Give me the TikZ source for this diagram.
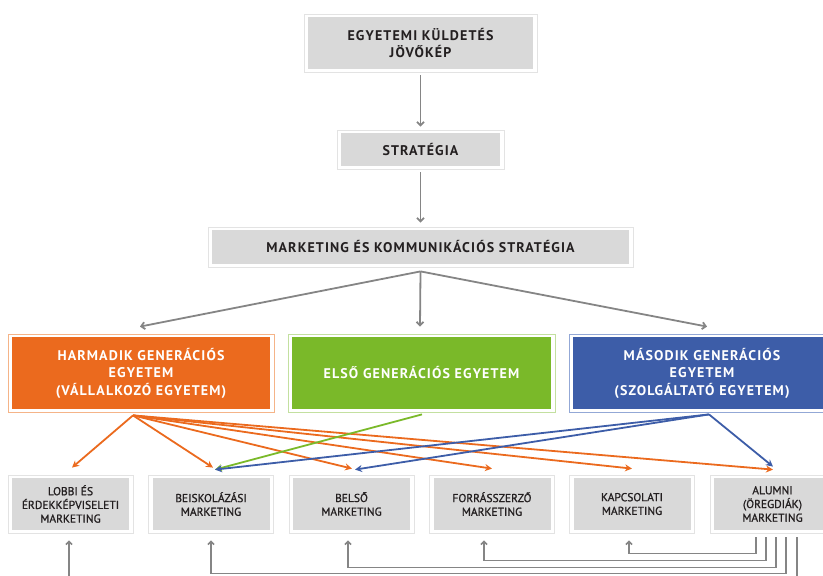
\documentclass[tikz,border=0pt]{standalone}
\usepackage{fontspec}
\setmainfont{PT Sans}
\newfontfamily\headfont[LetterSpace=8]{PT Sans}
\newfontfamily\smallfont[FakeBold=1]{PT Sans}
\usetikzlibrary{arrows.meta}
\definecolor{boxgray}{HTML}{D9D9D9}
\definecolor{framegray}{HTML}{E3E3E3}
\definecolor{lineg}{HTML}{858585}
\definecolor{ora}{HTML}{EB6A1E}
\definecolor{oraframe}{HTML}{F5B488}
\definecolor{grn}{HTML}{7AB929}
\definecolor{grnframe}{HTML}{C3E0A0}
\definecolor{blu}{HTML}{3D5DA8}
\definecolor{bluframe}{HTML}{93A8D6}
\definecolor{txt}{HTML}{231F20}
\tikzset{
  framed/.style 2 args={draw=#2, line width=0.8pt, fill=white, inner sep=0pt,
    path picture={\fill[#1] ([shift={(4pt,-3pt)}]path picture bounding box.north west)
      rectangle ([shift={(-4pt,3pt)}]path picture bounding box.south east);}},
  hbox/.style={framed={boxgray}{framegray}, font=\headfont\bfseries\fontsize{14}{17.5}\selectfont,
    text=txt, align=center},
  cbox/.style 2 args={framed={#1}{#2}, font=\headfont\bfseries\fontsize{14}{17.5}\selectfont,
    text=white, align=center, minimum width=266pt, minimum height=78pt},
  sbox/.style={framed={boxgray}{framegray}, font=\smallfont\fontsize{11.5}{13.7}\selectfont,
    text=txt, align=center, minimum width=125pt, minimum height=58pt},
  gar/.style={draw=lineg, line width=1.8pt, -{Straight Barb[length=3.5pt,width=7pt]}},
  bar/.style={draw=lineg, line width=1.6pt, -{Straight Barb[length=3pt,width=6pt]}},
  oar/.style={draw=ora, line width=1.8pt, -{Stealth[length=7pt,width=7pt]}},
  gnar/.style={draw=grn, line width=1.8pt, -{Stealth[length=7pt,width=7pt]}},
  bar2/.style={draw=blu, line width=1.8pt, -{Stealth[length=7pt,width=7pt]}},
}
\begin{document}
\begin{tikzpicture}[x=1pt,y=-1pt]
\useasboundingbox (0,0) rectangle (823,576);
\clip (0,0) rectangle (823,576);

\node[hbox, minimum width=233pt, minimum height=58pt] (mission) at (420.5,43) {EGYETEMI KÜLDETÉS\\JÖVŐKÉP};
\node[hbox, minimum width=167pt, minimum height=39pt] (strat) at (420.5,149.5) {STRATÉGIA};
\node[hbox, minimum width=425pt, minimum height=40pt] (mkt) at (420.5,247) {MARKETING ÉS KOMMUNIKÁCIÓS STRATÉGIA};

\node[cbox={ora}{oraframe}] (harm) at (141,373) {HARMADIK GENERÁCIÓS\\EGYETEM\\(VÁLLALKOZÓ EGYETEM)};
\node[cbox={grn}{grnframe}, minimum width=267pt] (elso) at (421.5,373) {ELSŐ GENERÁCIÓS EGYETEM};
\node[cbox={blu}{bluframe}] (mas) at (702,373) {MÁSODIK GENERÁCIÓS\\EGYETEM\\(SZOLGÁLTATÓ EGYETEM)};

\node[sbox] (lob) at (70.5,504) {LOBBI ÉS\\ÉRDEKKÉPVISELETI\\MARKETING};
\node[sbox] (bei) at (211,504) {BEISKOLÁZÁSI\\MARKETING};
\node[sbox] (bel) at (351.5,504) {BELSŐ\\MARKETING};
\node[sbox] (for) at (492,504) {FORRÁSSZERZŐ\\MARKETING};
\node[sbox] (kap) at (632,504) {KAPCSOLATI\\MARKETING};
\node[sbox] (alu) at (772.5,504) {ALUMNI\\(ÖREGDIÁK)\\MARKETING};

% top chain
\draw[gar] ([yshift=-3pt]mission.south) -- ([yshift=3pt]strat.north);
\draw[gar] ([yshift=-3pt]strat.south) -- ([yshift=4pt]mkt.north);
\coordinate (mo) at ([yshift=-4pt]mkt.south);
\draw[gar] (mo) -- ([shift={(-1pt,7pt)}]harm.north);
\draw[gar] (mo) -- ([shift={(-1.5pt,7pt)}]elso.north);
\draw[gar] (mo) -- ([shift={(5pt,7pt)}]mas.north);

% coloured arrows
\coordinate (ho) at ([shift={(-8pt,-3pt)}]harm.south);
\coordinate (go) at ([shift={(0.5pt,-2pt)}]elso.south);
\coordinate (bo) at ([shift={(7pt,-2pt)}]mas.south);
\draw[oar] (ho) -- ([shift={(1.5pt,7pt)}]lob.north);
\draw[oar] (ho) -- ([shift={(2pt,7pt)}]bei.north);
\draw[oar] (ho) -- ([shift={(0.5pt,6pt)}]bel.north);
\draw[oar] (ho) -- ([shift={(0pt,6pt)}]for.north);
\draw[oar] (ho) -- ([shift={(0pt,6pt)}]kap.north);
\draw[oar] (ho) -- ([shift={(0.5pt,5pt)}]alu.north);
\draw[gnar] (go) -- ([shift={(4pt,5pt)}]bei.north);
\draw[bar2] (bo) -- ([shift={(4pt,5pt)}]bei.north);
\draw[bar2] (bo) -- ([shift={(3.5pt,5pt)}]bel.north);
\draw[bar2] (bo) -- ([shift={(0.5pt,8pt)}]alu.north);

% feedback connectors from alumni
\draw[bar] ([shift={(-16.5pt,-4pt)}]alu.south) -- ++(0,16) -| ([shift={(-3pt,-7pt)}]kap.south);
\draw[bar] ([shift={(-6.5pt,-4pt)}]alu.south) -- ++(0,23) -| ([shift={(-8pt,-7pt)}]for.south);
\draw[bar] ([shift={(3.5pt,-4pt)}]alu.south) -- ++(0,30) -| ([shift={(-3.5pt,-7pt)}]bel.south);
\draw[bar] ([shift={(13.5pt,-4pt)}]alu.south) -- ++(0,36) -| ([shift={(0pt,-7pt)}]bei.south);
\draw[bar] ([shift={(24.5pt,-4pt)}]alu.south) -- ++(0,47) -| ([shift={(-1.5pt,-7pt)}]lob.south);
\end{tikzpicture}
\end{document}
